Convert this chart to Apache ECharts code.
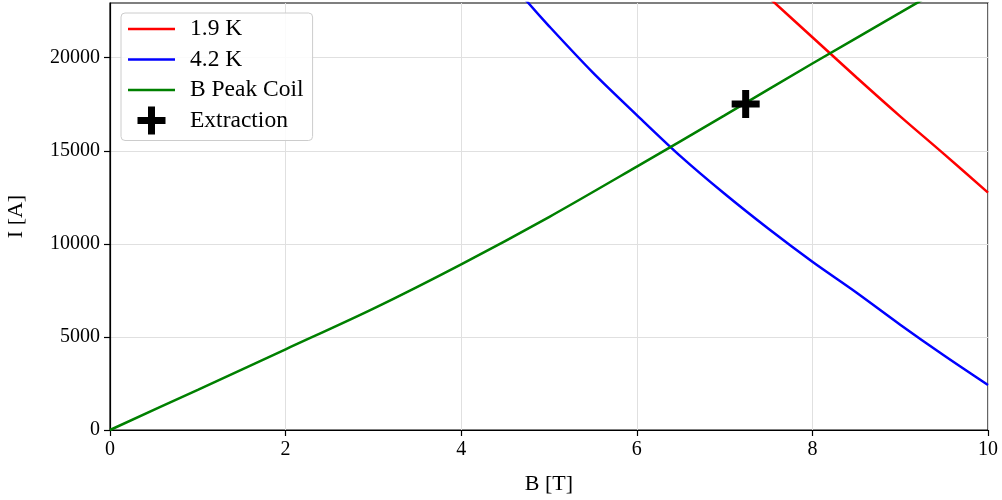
<!DOCTYPE html>
<html>
<head>
<meta charset="utf-8">
<script src="https://cdn.jsdelivr.net/npm/echarts@6/dist/echarts.min.js"></script>
<style>html,body{margin:0;padding:0;background:#fff}#c{width:1002px;height:500px}</style>
</head>
<body>
<div id="c"></div>
<script>
// Data
const b19 = [7.4, 7.5, 8.0, 8.5, 9.0, 9.5, 10.0];
const i19 = [23680, 23250, 21100, 18950, 16850, 14820, 12750];
const b42 = [4.5, 4.75, 5.0, 5.5, 6.0, 6.5, 7.0, 7.5, 8.0, 8.5, 9.0, 9.5, 10.0];
const i42 = [24430, 23020, 21700, 19200, 16920, 14700, 12690, 10810, 9040, 7390, 5660, 4005, 2420];
const bPeak = [0, 1, 2, 3, 4, 5, 6, 7, 8, 9, 9.5];
const iPeak = [0, 2160, 4335, 6520, 8900, 11440, 14150, 16900, 19690, 22420, 23800];
const extraction = [[7.24, 17513]];
const seriesNames = ['1.9 K', '4.2 K', 'B Peak Coil', 'Extraction'];
const xTicks = [0, 2, 4, 6, 8, 10];
const yTicks = [0, 5000, 10000, 15000, 20000];

const zip = (xs, ys) => xs.map((x, k) => [x, ys[k]]);
const FONT = 'Liberation Serif';
const plusPath = 'path://M3,0 L5,0 L5,3 L8,3 L8,5 L5,5 L5,8 L3,8 L3,5 L0,5 L0,3 L3,3 Z';
const linePath = 'path://M0,0 L47,0 L47,2.5 L0,2.5 Z';

const chart = echarts.init(document.getElementById('c'), null, {renderer: 'canvas'});
chart.setOption({
  animation: false,
  grid: {left: 110, right: 14, top: 3, bottom: 70, show: true, borderColor: '#000', borderWidth: 1.2,
         containLabel: false, outerBoundsMode: 'none'},
  legend: {
    orient: 'vertical', left: 121, top: 13,
    data: seriesNames.map((n, k) => ({name: n, icon: k < 3 ? linePath : plusPath})),
    itemWidth: 47, itemHeight: 28, itemGap: 2.5,
    padding: [2, 9, 6, 7],
    backgroundColor: 'rgba(255,255,255,0.85)',
    borderColor: '#cccccc', borderWidth: 1, borderRadius: 4,
    textStyle: {fontFamily: FONT, fontSize: 23.5, lineHeight: 28, color: '#000', padding: [0, 0, 0, 10]}
  },
  xAxis: {
    type: 'value', min: 0, max: 10, interval: 2,
    name: 'B [T]', nameLocation: 'middle', nameGap: 43,
    nameTextStyle: {fontFamily: FONT, fontSize: 22, color: '#000'},
    axisLine: {show: true, onZero: false, lineStyle: {color: '#000', width: 1.2}},
    axisTick: {show: true, length: 6, lineStyle: {color: '#000', width: 1.2}},
    axisLabel: {fontFamily: FONT, fontSize: 20, color: '#000', margin: 10, customValues: xTicks},
    splitLine: {show: true, lineStyle: {color: '#e0e0e0', width: 1}}
  },
  yAxis: {
    type: 'value', min: 0, max: 22940,
    name: 'I [A]', nameLocation: 'middle', nameGap: 83, nameRotate: 90,
    nameTextStyle: {fontFamily: FONT, fontSize: 22, color: '#000'},
    axisLine: {show: true, onZero: false, lineStyle: {color: '#000', width: 1.2}},
    axisTick: {show: true, length: 6, lineStyle: {color: '#000', width: 1.2}, customValues: yTicks},
    axisLabel: {fontFamily: FONT, fontSize: 20, color: '#000', margin: 10, customValues: yTicks,
      formatter: v => String(v)},
    splitLine: {show: true, lineStyle: {color: '#e0e0e0', width: 1}}
  },
  series: [
    {name: '1.9 K', type: 'line', data: zip(b19, i19), symbol: 'none', smooth: 0.3, clip: true,
     lineStyle: {color: '#ff0000', width: 2.5}, itemStyle: {color: '#ff0000'}},
    {name: '4.2 K', type: 'line', data: zip(b42, i42), symbol: 'none', smooth: 0.3, clip: true,
     lineStyle: {color: '#0000ff', width: 2.5}, itemStyle: {color: '#0000ff'}},
    {name: 'B Peak Coil', type: 'line', data: zip(bPeak, iPeak), symbol: 'none', smooth: 0.3, clip: true,
     lineStyle: {color: '#008000', width: 2.5}, itemStyle: {color: '#008000'}},
    {name: 'Extraction', type: 'scatter', data: extraction, symbol: plusPath, symbolSize: 28,
     itemStyle: {color: '#000', opacity: 1}, z: 5}
  ]
});
</script>
</body>
</html>
